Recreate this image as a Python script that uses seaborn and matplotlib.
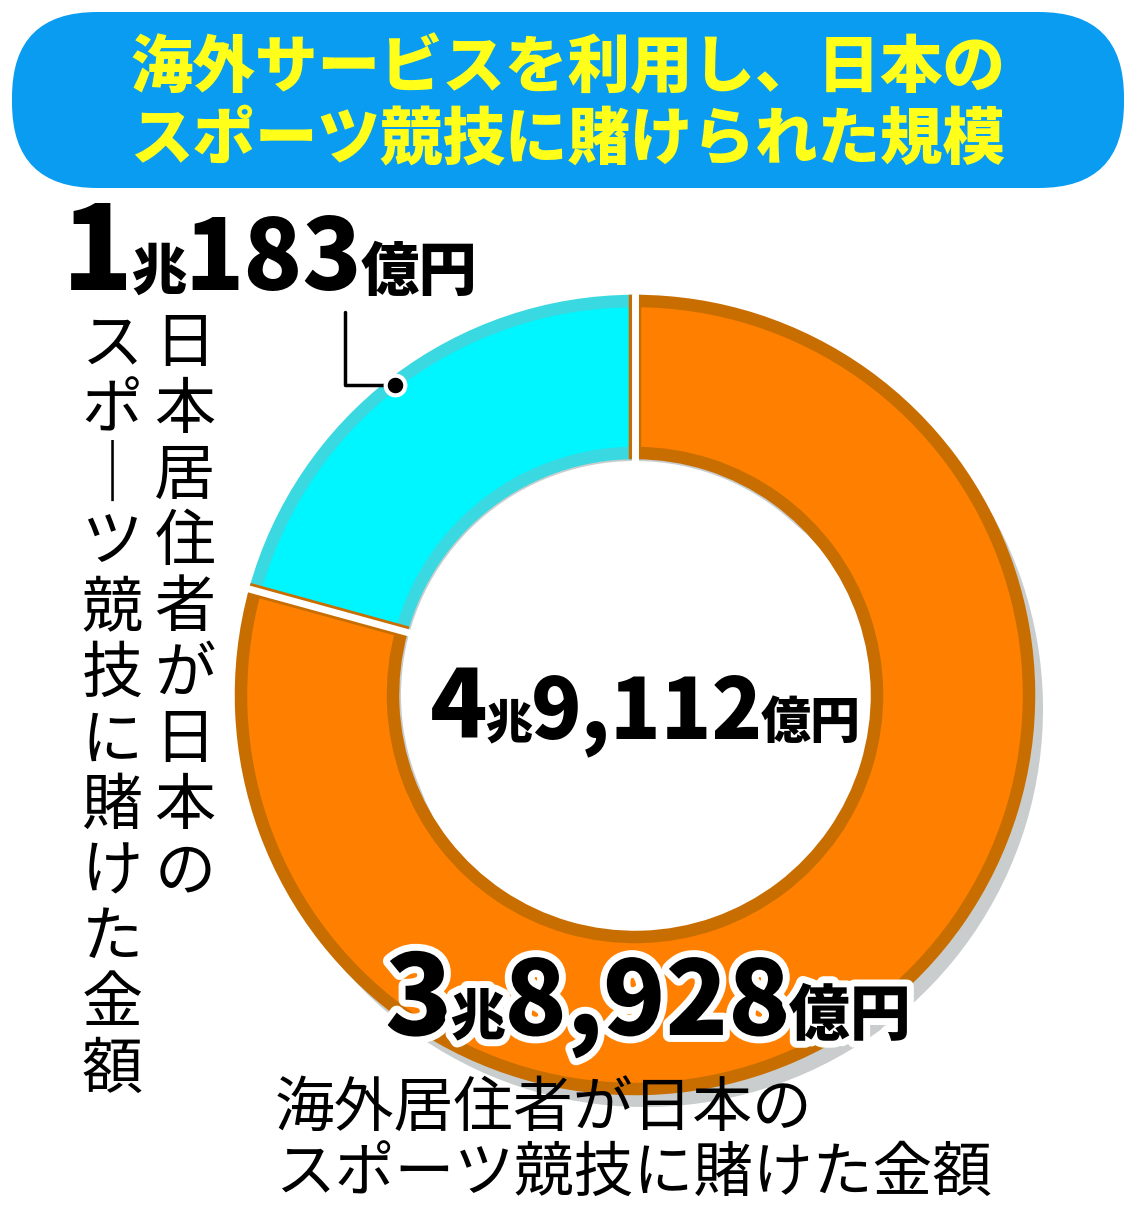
import matplotlib
matplotlib.use("Agg")
import matplotlib.pyplot as plt
import matplotlib.patheffects as pe
from matplotlib.patches import FancyBboxPatch, Circle
import numpy as np
import seaborn as sns

# data (億円)
labels = ["日本居住者", "海外居住者"]
values = [10183, 38928]
colors = ["#00f6ff", "#ff8000"]
edge_colors = ["#3ad8e0", "#c86e00"]
total_label = [("4", 68), ("兆", 34), ("9,112", 60), ("億円", 36)]
domestic_label = [("1", 84), ("兆", 40), ("183", 70), ("億円", 42)]
foreign_label = [("3", 80), ("兆", 40), ("8,928", 74), ("億円", 44)]
title_lines = ["海外サービスを利用し、日本の", "スポーツ競技に賭けられた規模"]

sns.set_theme(style="white")
plt.rcParams['font.family'] = ['Noto Sans CJK JP', 'DejaVu Sans']

W, H = 1136, 1209
fig = plt.figure(figsize=(W / 100, H / 100), dpi=100)
ax = fig.add_axes([0, 0, 1, 1])
ax.set_xlim(0, W)
ax.set_ylim(0, H)
ax.axis("off")
fig.canvas.draw()
renderer = fig.canvas.get_renderer()


def Y(py):
    return H - py


def seq_text(parts, x, y, **kw):
    # draw pieces left to right on a shared baseline
    for s, size in parts:
        t = ax.text(x, Y(y), s, fontsize=size, fontweight="black", ha="left",
                    va="baseline", color="black", zorder=8, **kw)
        bb = t.get_window_extent(renderer=renderer)
        x += bb.width * W / fig.bbox.width - 2


# title banner
ax.add_patch(FancyBboxPatch((12, Y(188)), 1112, 176,
                            boxstyle="round,pad=0,rounding_size=85",
                            fc="#0a9cf0", ec="none"))
for i, line in enumerate(title_lines):
    ax.text(568, Y(68 + i * 72), line, fontsize=45, fontweight="black",
            color="#ffff1a", ha="center", va="center")

# donut
cx, cy, r, width = 635, Y(695), 398, 160
ax.pie(values, colors=["#c9cdcd"] * 2, startangle=90, counterclock=True,
       center=(cx + 10, cy - 14), radius=r,
       wedgeprops=dict(width=width, edgecolor="none"))
wedges, _ = ax.pie(values, colors=colors, startangle=90, counterclock=True,
                   center=(cx, cy), radius=r - 4,
                   wedgeprops=dict(width=width - 8, linewidth=9))
for w, ec in zip(wedges, edge_colors):
    w.set_edgecolor(ec)
ax.add_patch(Circle((cx, cy), r - width - 4, fc="white", ec="none", zorder=3))
ax.set_xlim(0, W)
ax.set_ylim(0, H)
ax.set_aspect("equal")
# white separators
angs = np.deg2rad(90 + np.cumsum([0] + values) / sum(values) * 360)
for a in angs[:2]:
    ax.plot([cx + (r - width - 6) * np.cos(a), cx + (r + 2) * np.cos(a)],
            [cy + (r - width - 6) * np.sin(a), cy + (r + 2) * np.sin(a)],
            color="white", lw=5, zorder=4)

# labels
seq_text(total_label, 430, 738)
seq_text(domestic_label, 62, 290)
seq_text(foreign_label, 385, 1035,
         path_effects=[pe.withStroke(linewidth=10, foreground="white")])
ax.text(275, Y(1192), "海外居住者が日本の\nスポーツ競技に賭けた金額", fontsize=43,
        ha="left", va="baseline", linespacing=1.1, color="black", zorder=8)

# vertical texts
for x0, col in [(185, "日本居住者が日本の"), (112, "スポ｜ツ競技に賭けた金額")]:
    for i, ch in enumerate(col):
        ax.text(x0, Y(345 + i * 66), ch, fontsize=44, ha="center",
                va="center", color="black")

# leader line
ax.plot([345, 345, 395], [Y(312), Y(385), Y(385)], color="black", lw=2.5,
        zorder=6)
ax.scatter([395], [Y(385)], s=200, color="black", edgecolor="white",
           linewidth=3, zorder=7)

fig.savefig("out.png", dpi=100)
